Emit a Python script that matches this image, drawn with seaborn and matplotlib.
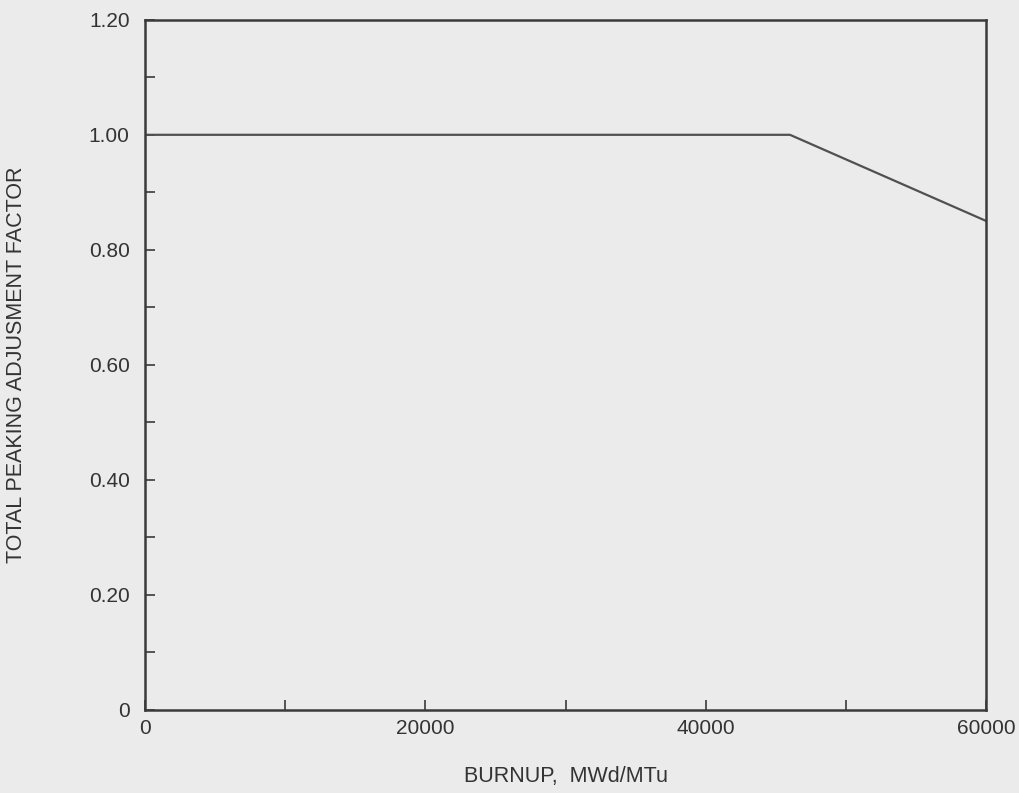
import matplotlib
matplotlib.use("Agg")
import matplotlib.pyplot as plt
import seaborn as sns
import pandas as pd

burnup = [0, 46000, 60000]
factor = [1.00, 1.00, 0.85]

x_ticks = [0, 20000, 40000, 60000]
x_tick_labels = ["0", "20000", "40000", "60000"]
y_ticks = [0, 0.2, 0.4, 0.6, 0.8, 1.0, 1.2]
y_tick_labels = ["0", "0.20", "0.40", "0.60", "0.80", "1.00", "1.20"]

sns.set_style("ticks")
plt.rcParams['font.family'] = ['Liberation Sans', 'DejaVu Sans']

bg = "#ebebeb"
ink = "#3a3a3a"

fig = plt.figure(figsize=(10.2, 7.93), dpi=100, facecolor=bg)
ax = fig.add_axes([0.142, 0.105, 0.825, 0.870])
ax.set_facecolor(bg)

df = pd.DataFrame({"burnup": burnup, "factor": factor})
sns.lineplot(data=df, x="burnup", y="factor", ax=ax, color="#505050", linewidth=1.6)

ax.set_xlim(0, 60000)
ax.set_ylim(0, 1.2)
ax.set_xticks(x_ticks)
ax.set_xticklabels(x_tick_labels)
ax.set_xticks([10000, 30000, 50000], minor=True)
ax.set_yticks(y_ticks)
ax.set_yticklabels(y_tick_labels)
ax.set_yticks([0.1, 0.3, 0.5, 0.7, 0.9, 1.1], minor=True)

for s in ax.spines.values():
    s.set_visible(True)
    s.set_color(ink)
    s.set_linewidth(1.8)

ax.tick_params(axis="both", which="both", direction="in", color=ink, width=1.2)
ax.tick_params(axis="both", which="major", length=7, labelsize=15, labelcolor="#333333")
ax.tick_params(axis="both", which="minor", length=7)
ax.tick_params(axis="y", which="major", pad=11)
ax.tick_params(axis="x", which="major", pad=7)

ax.set_xlabel("BURNUP,  MWd/MTu", fontsize=15.5, color="#333333")
ax.set_ylabel("TOTAL PEAKING ADJUSMENT FACTOR", fontsize=15.5, color="#333333")
ax.xaxis.set_label_coords(0.5, -0.082)
ax.yaxis.set_label_coords(-0.140, 0.5)

fig.savefig("out.png", dpi=100, facecolor=bg)
